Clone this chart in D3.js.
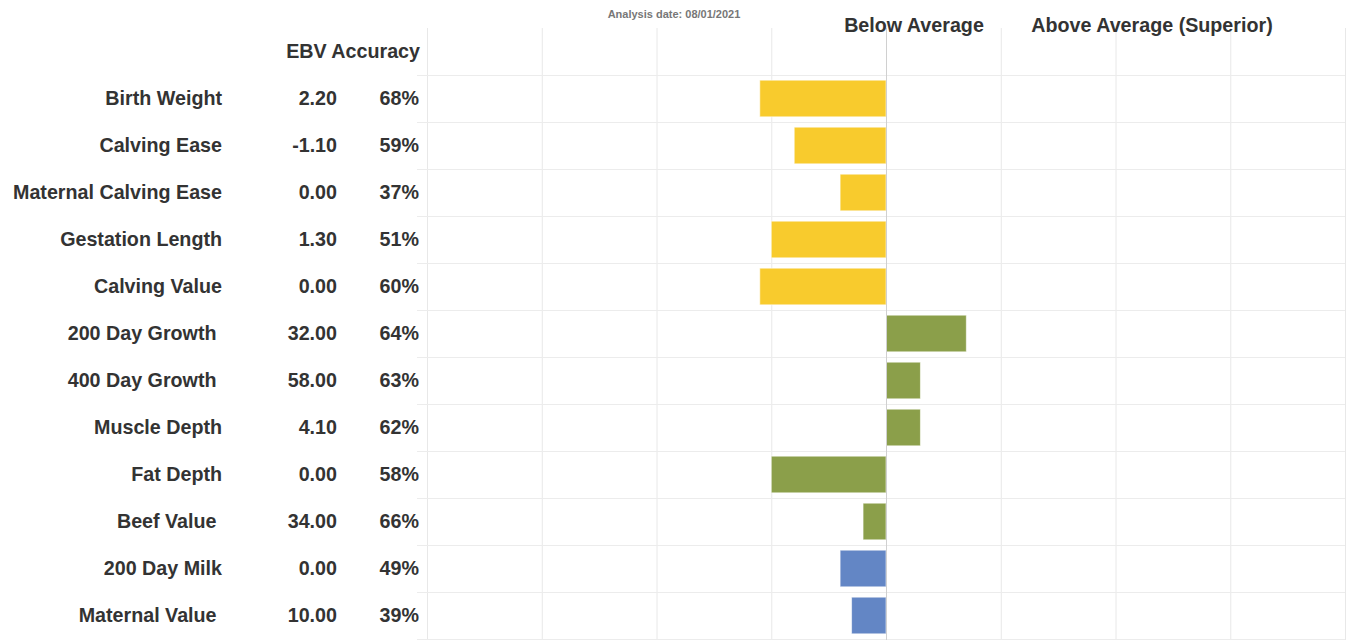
<!DOCTYPE html>
<html>
<head>
<meta charset="utf-8">
<script src="https://cdn.jsdelivr.net/npm/d3@7"></script>
<style>
  html, body { margin: 0; padding: 0; background: #fff; }
  svg text { font-family: "Liberation Sans", Arial, sans-serif; white-space: pre; }
</style>
</head>
<body>
<svg id="chart" width="1357" height="644"></svg>
<script>
// ---- data ----
const traits = ["Birth Weight", "Calving Ease", "Maternal Calving Ease", "Gestation Length", "Calving Value",
  "200 Day Growth ", "400 Day Growth ", "Muscle Depth", "Fat Depth", "Beef Value ", "200 Day Milk", "Maternal Value "];
const ebv = [2.20, -1.10, 0.00, 1.30, 0.00, 32.00, 58.00, 4.10, 0.00, 34.00, 0.00, 10.00];
const accuracy = [68, 59, 37, 51, 60, 64, 63, 62, 58, 66, 49, 39];
const relative = [-27.5, -20, -10, -25, -27.5, 17.5, 7.5, 7.5, -25, -5, -10, -7.5];
const groups = ["calving", "calving", "calving", "calving", "calving",
  "growth", "growth", "growth", "growth", "growth", "maternal", "maternal"];
const groupNames = ["calving", "growth", "maternal"];
const groupColors = ["#F8CB2D", "#8B9F4A", "#6386C5"];
const gridTicks = [-100, -75, -50, -25, 0, 25, 50, 75, 100];
const titleDate = "Analysis date: 08/01/2021";
const headerLeft = "Below Average";
const headerRight = "Above Average (Superior)";
const headerTable = "EBV Accuracy";

// ---- layout ----
const svg = d3.select("#chart");
const x = d3.scaleLinear().domain([-100, 100]).range([427, 1345]);
const y = d3.scaleBand().domain(d3.range(traits.length)).range([75, 639]).paddingInner(0.22).paddingOuter(0.11);
const rowEdge = d3.scaleLinear().domain([0, traits.length]).range([75, 639]);
const color = d3.scaleOrdinal().domain(groupNames).range(groupColors);
const gridTop = 28, gridBottom = 640;
const textColor = "#333";
const fontSize = 19.7;

// vertical grid
svg.append("g").selectAll("line").data(gridTicks).join("line")
  .attr("x1", d => x(d) + 0.5).attr("x2", d => x(d) + 0.5)
  .attr("y1", gridTop).attr("y2", gridBottom)
  .attr("stroke", d => d === 0 ? "#cfcfcf" : "#e8e8e8").attr("stroke-width", 1);

// horizontal row lines
svg.append("g").selectAll("line").data(d3.range(traits.length + 1)).join("line")
  .attr("x1", 417).attr("x2", x(100))
  .attr("y1", d => Math.round(rowEdge(d)) + 0.5).attr("y2", d => Math.round(rowEdge(d)) + 0.5)
  .attr("stroke", "#ececec").attr("stroke-width", 1);

// bars
svg.append("g").selectAll("rect").data(relative).join("rect")
  .attr("x", d => x(Math.min(0, d)))
  .attr("width", d => Math.abs(x(d) - x(0)))
  .attr("y", (d, i) => y(i))
  .attr("height", y.bandwidth())
  .attr("fill", (d, i) => color(groups[i]))
  .attr("stroke", "rgba(255,255,255,0.6)").attr("stroke-width", 1);

// redraw center line on top
svg.append("line").attr("x1", x(0) + 0.5).attr("x2", x(0) + 0.5)
  .attr("y1", gridTop).attr("y2", gridBottom).attr("stroke", "#d0d0d0");

// table text
const rowMid = i => y(i) + y.bandwidth() / 2;
const tbl = svg.append("g").attr("font-weight", "bold").attr("font-size", fontSize).attr("fill", textColor);
tbl.selectAll("text.lab").data(traits).join("text").attr("class", "lab")
  .attr("x", 222).attr("y", (d, i) => rowMid(i)).attr("dy", "0.35em")
  .attr("text-anchor", "end").text(d => d);
const f2 = d3.formatLocale({decimal: ".", thousands: ",", grouping: [3], currency: ["", ""], minus: "-"}).format(".2f");
tbl.selectAll("text.ebv").data(ebv).join("text").attr("class", "ebv")
  .attr("x", 337).attr("y", (d, i) => rowMid(i)).attr("dy", "0.35em")
  .attr("text-anchor", "end").text(d => f2(d));
tbl.selectAll("text.acc").data(accuracy).join("text").attr("class", "acc")
  .attr("x", 419).attr("y", (d, i) => rowMid(i)).attr("dy", "0.35em")
  .attr("text-anchor", "end").text(d => d + "%");
tbl.append("text").attr("x", 420).attr("y", 51).attr("dy", "0.35em")
  .attr("text-anchor", "end").text(headerTable);

// headers
svg.append("text").attr("x", 674).attr("y", 14).attr("dy", "0.35em")
  .attr("text-anchor", "middle").attr("font-weight", "bold").attr("font-size", 11)
  .attr("fill", "#777").text(titleDate);
svg.append("text").attr("x", 914).attr("y", 25).attr("dy", "0.35em")
  .attr("text-anchor", "middle").attr("font-weight", "bold").attr("font-size", fontSize)
  .attr("fill", textColor).text(headerLeft);
svg.append("text").attr("x", 1152).attr("y", 25).attr("dy", "0.35em")
  .attr("text-anchor", "middle").attr("font-weight", "bold").attr("font-size", fontSize)
  .attr("fill", textColor).text(headerRight);
</script>
</body>
</html>
